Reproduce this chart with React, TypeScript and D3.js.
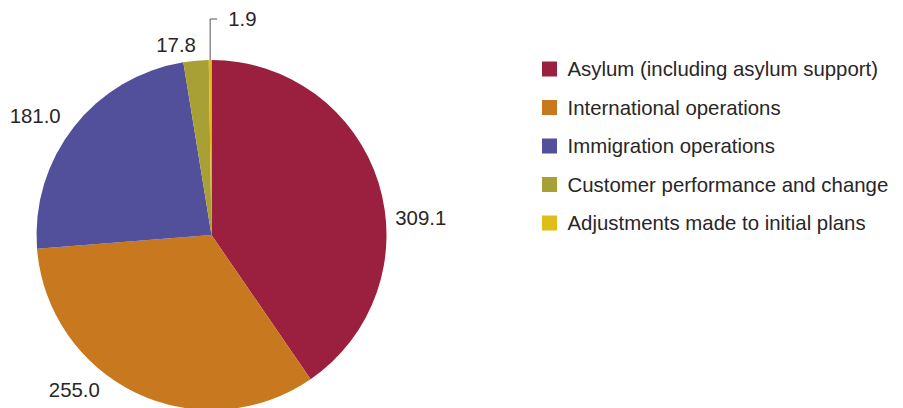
import React from "react";
import * as d3 from "d3";

const categories = [
  "Asylum (including asylum support)",
  "International operations",
  "Immigration operations",
  "Customer performance and change",
  "Adjustments made to initial plans",
];
const values = [309.1, 255.0, 181.0, 17.8, 1.9];
const labels = ["309.1", "255.0", "181.0", "17.8", "1.9"];
const colors = ["#9b1f3f", "#c8781e", "#524f9b", "#a8a035", "#e0be1a"];

// label placement: angle nudge (deg) from slice mid-angle, radius from centre
const labelNudge = [12.6, 16, -4, -5.5, 0];
const labelRadius = [210, 207, 213, 193, 0];

const W = 903;
const H = 408;
const cx = 211.5;
const cy = 235;
const R = 175;

export default function App() {
  const pie = d3.pie<number>().value((d) => d).sort(null);
  const arcs = pie(values);
  const arc = d3.arc<d3.PieArcDatum<number>>().innerRadius(0).outerRadius(R);
  const legendY = d3.scaleLinear().domain([0, categories.length - 1]).range([69, 223]);
  const font = "'Liberation Sans', Arial, sans-serif";
  const textColor = "#2a2627";
  const fs = 20.4;

  return (
    <svg width={W} height={H} style={{ position: "absolute", left: 0, top: 0 }}>
      <rect width={W} height={H} fill="#fff" />
      <g transform={`translate(${cx},${cy})`}>
        {arcs.map((a, i) => (
          <path key={i} d={arc(a) || ""} fill={colors[i]} />
        ))}
        {arcs.map((a, i) => {
          const mid = (a.startAngle + a.endAngle) / 2;
          if (i === arcs.length - 1) {
            const x0 = R * Math.sin(mid);
            const y0 = -R * Math.cos(mid);
            const yTop = 19 - cy;
            return (
              <g key={i}>
                <path
                  d={`M${x0},${y0}V${yTop}H${x0 + 7}`}
                  fill="none"
                  stroke="#555"
                  strokeWidth={1}
                />
                <text
                  x={x0 + 18}
                  y={yTop}
                  dominantBaseline="central"
                  fontFamily={font}
                  fontSize={fs}
                  fill={textColor}
                >
                  {labels[i]}
                </text>
              </g>
            );
          }
          const ang = mid + (labelNudge[i] * Math.PI) / 180;
          const x = labelRadius[i] * Math.sin(ang);
          const y = -labelRadius[i] * Math.cos(ang);
          return (
            <text
              key={i}
              x={x}
              y={y}
              textAnchor="middle"
              dominantBaseline="central"
              fontFamily={font}
              fontSize={fs}
              fill={textColor}
            >
              {labels[i]}
            </text>
          );
        })}
      </g>
      <g>
        {categories.map((c, i) => (
          <g key={i} transform={`translate(542,${legendY(i)})`}>
            <rect x={0} y={-7.5} width={15} height={15} fill={colors[i]} />
            <text
              x={25.5}
              y={0}
              dominantBaseline="central"
              fontFamily={font}
              fontSize={fs}
              fill={textColor}
            >
              {c}
            </text>
          </g>
        ))}
      </g>
    </svg>
  );
}
